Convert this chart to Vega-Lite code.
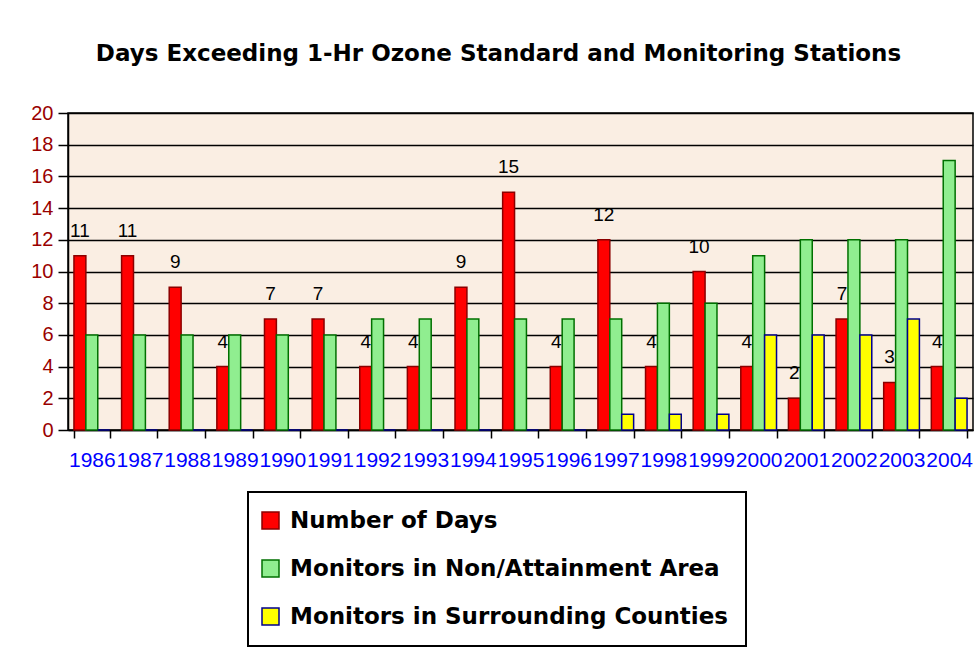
{
  "$schema": "https://vega.github.io/schema/vega-lite/v6.json",
  "width": 905,
  "height": 317,
  "autosize": {"type": "none"},
  "padding": {"left": 68, "top": 113, "right": 1, "bottom": 230},
  "background": "#ffffff",
  "title": {
    "text": "Days Exceeding 1-Hr Ozone Standard and Monitoring Stations",
    "font": "DejaVu Sans",
    "fontWeight": "bold",
    "fontSize": 23,
    "color": "#000000",
    "anchor": "middle",
    "baseline": "alphabetic",
    "offset": 19,
    "dx": -22
  },
  "data": {
    "values": [
      {"year": "1986", "series": "Number of Days", "value": 11},
      {"year": "1986", "series": "Monitors in Non/Attainment Area", "value": 6},
      {"year": "1986", "series": "Monitors in Surrounding Counties", "value": 0},
      {"year": "1987", "series": "Number of Days", "value": 11},
      {"year": "1987", "series": "Monitors in Non/Attainment Area", "value": 6},
      {"year": "1987", "series": "Monitors in Surrounding Counties", "value": 0},
      {"year": "1988", "series": "Number of Days", "value": 9},
      {"year": "1988", "series": "Monitors in Non/Attainment Area", "value": 6},
      {"year": "1988", "series": "Monitors in Surrounding Counties", "value": 0},
      {"year": "1989", "series": "Number of Days", "value": 4},
      {"year": "1989", "series": "Monitors in Non/Attainment Area", "value": 6},
      {"year": "1989", "series": "Monitors in Surrounding Counties", "value": 0},
      {"year": "1990", "series": "Number of Days", "value": 7},
      {"year": "1990", "series": "Monitors in Non/Attainment Area", "value": 6},
      {"year": "1990", "series": "Monitors in Surrounding Counties", "value": 0},
      {"year": "1991", "series": "Number of Days", "value": 7},
      {"year": "1991", "series": "Monitors in Non/Attainment Area", "value": 6},
      {"year": "1991", "series": "Monitors in Surrounding Counties", "value": 0},
      {"year": "1992", "series": "Number of Days", "value": 4},
      {"year": "1992", "series": "Monitors in Non/Attainment Area", "value": 7},
      {"year": "1992", "series": "Monitors in Surrounding Counties", "value": 0},
      {"year": "1993", "series": "Number of Days", "value": 4},
      {"year": "1993", "series": "Monitors in Non/Attainment Area", "value": 7},
      {"year": "1993", "series": "Monitors in Surrounding Counties", "value": 0},
      {"year": "1994", "series": "Number of Days", "value": 9},
      {"year": "1994", "series": "Monitors in Non/Attainment Area", "value": 7},
      {"year": "1994", "series": "Monitors in Surrounding Counties", "value": 0},
      {"year": "1995", "series": "Number of Days", "value": 15},
      {"year": "1995", "series": "Monitors in Non/Attainment Area", "value": 7},
      {"year": "1995", "series": "Monitors in Surrounding Counties", "value": 0},
      {"year": "1996", "series": "Number of Days", "value": 4},
      {"year": "1996", "series": "Monitors in Non/Attainment Area", "value": 7},
      {"year": "1996", "series": "Monitors in Surrounding Counties", "value": 0},
      {"year": "1997", "series": "Number of Days", "value": 12},
      {"year": "1997", "series": "Monitors in Non/Attainment Area", "value": 7},
      {"year": "1997", "series": "Monitors in Surrounding Counties", "value": 1},
      {"year": "1998", "series": "Number of Days", "value": 4},
      {"year": "1998", "series": "Monitors in Non/Attainment Area", "value": 8},
      {"year": "1998", "series": "Monitors in Surrounding Counties", "value": 1},
      {"year": "1999", "series": "Number of Days", "value": 10},
      {"year": "1999", "series": "Monitors in Non/Attainment Area", "value": 8},
      {"year": "1999", "series": "Monitors in Surrounding Counties", "value": 1},
      {"year": "2000", "series": "Number of Days", "value": 4},
      {"year": "2000", "series": "Monitors in Non/Attainment Area", "value": 11},
      {"year": "2000", "series": "Monitors in Surrounding Counties", "value": 6},
      {"year": "2001", "series": "Number of Days", "value": 2},
      {"year": "2001", "series": "Monitors in Non/Attainment Area", "value": 12},
      {"year": "2001", "series": "Monitors in Surrounding Counties", "value": 6},
      {"year": "2002", "series": "Number of Days", "value": 7},
      {"year": "2002", "series": "Monitors in Non/Attainment Area", "value": 12},
      {"year": "2002", "series": "Monitors in Surrounding Counties", "value": 6},
      {"year": "2003", "series": "Number of Days", "value": 3},
      {"year": "2003", "series": "Monitors in Non/Attainment Area", "value": 12},
      {"year": "2003", "series": "Monitors in Surrounding Counties", "value": 7},
      {"year": "2004", "series": "Number of Days", "value": 4},
      {"year": "2004", "series": "Monitors in Non/Attainment Area", "value": 17},
      {"year": "2004", "series": "Monitors in Surrounding Counties", "value": 2}
    ]
  },
  "encoding": {
    "x": {
      "field": "year",
      "type": "nominal",
      "sort": null,
      "scale": {"paddingInner": 0.25, "paddingOuter": 0.125},
      "axis": {
        "title": null,
        "labelAngle": 0,
        "labelFont": "Liberation Sans",
        "labelFontSize": 21,
        "labelColor": "#0000ff",
        "labelPadding": 11,
        "labelOverlap": false,
        "labelBound": false,
        "labelFlush": false,
        "tickBand": "extent",
        "tickSize": 8,
        "tickColor": "#000000",
        "tickWidth": 1.5,
        "domainColor": "#000000",
        "domainWidth": 1.5,
        "grid": false
      }
    },
    "xOffset": {
      "field": "series",
      "type": "nominal",
      "scale": {"domain": ["Number of Days", "Monitors in Non/Attainment Area", "Monitors in Surrounding Counties"], "paddingInner": 0, "paddingOuter": 0}
    },
    "y": {
      "field": "value",
      "type": "quantitative",
      "scale": {"domain": [0, 20], "nice": false},
      "axis": {
        "title": null,
        "values": [0, 2, 4, 6, 8, 10, 12, 14, 16, 18, 20],
        "labelFont": "Liberation Sans",
        "labelFontSize": 20,
        "labelColor": "#990000",
        "labelPadding": 5,
        "tickSize": 10,
        "tickColor": "#000000",
        "tickWidth": 1.5,
        "domainColor": "#000000",
        "domainWidth": 1.5,
        "grid": true,
        "gridColor": "#000000",
        "gridWidth": 1.5,
        "gridOpacity": 1
      }
    }
  },
  "layer": [
    {
      "mark": {"type": "bar", "strokeWidth": 1.5},
      "encoding": {
        "color": {
          "field": "series",
          "type": "nominal",
          "scale": {
            "domain": ["Number of Days", "Monitors in Non/Attainment Area", "Monitors in Surrounding Counties"],
            "range": ["#ff0000", "#90ee90", "#ffff00"]
          },
          "legend": {
            "title": null,
            "orient": "none",
            "legendX": 180,
            "legendY": 379,
            "direction": "vertical",
            "strokeColor": "#000000",
            "fillColor": "#ffffff",
            "padding": 17,
            "symbolOffset": -6,
            "symbolType": "square",
            "symbolSize": 289,
            "symbolStrokeWidth": 1.5,
            "symbolOpacity": 1,
            "labelFont": "DejaVu Sans",
            "labelFontWeight": "bold",
            "labelFontSize": 23,
            "labelColor": "#000000",
            "labelOffset": 8,
            "labelLimit": 600,
            "rowPadding": 24
          }
        },
        "stroke": {
          "field": "series",
          "type": "nominal",
          "scale": {
            "domain": ["Number of Days", "Monitors in Non/Attainment Area", "Monitors in Surrounding Counties"],
            "range": ["#8b0000", "#007000", "#00008b"]
          },
          "legend": {
            "title": null,
            "orient": "none",
            "legendX": 180,
            "legendY": 379,
            "direction": "vertical",
            "strokeColor": "#000000",
            "fillColor": "#ffffff",
            "padding": 17,
            "symbolOffset": -6,
            "symbolType": "square",
            "symbolSize": 289,
            "symbolStrokeWidth": 1.5,
            "symbolOpacity": 1,
            "labelFont": "DejaVu Sans",
            "labelFontWeight": "bold",
            "labelFontSize": 23,
            "labelColor": "#000000",
            "labelOffset": 8,
            "labelLimit": 600,
            "rowPadding": 24
          }
        }
      }
    },
    {
      "transform": [{"filter": "datum.series === 'Number of Days'"}],
      "mark": {"type": "text", "baseline": "alphabetic", "dy": -19, "font": "Liberation Sans", "fontSize": 19, "color": "#000000"},
      "encoding": {
        "text": {"field": "value", "type": "quantitative"}
      }
    }
  ],
  "config": {
    "view": {"fill": "#faeee3", "stroke": "#000000", "strokeWidth": 1.5},
    "legend": {"strokeWidth": 2}
  }
}
